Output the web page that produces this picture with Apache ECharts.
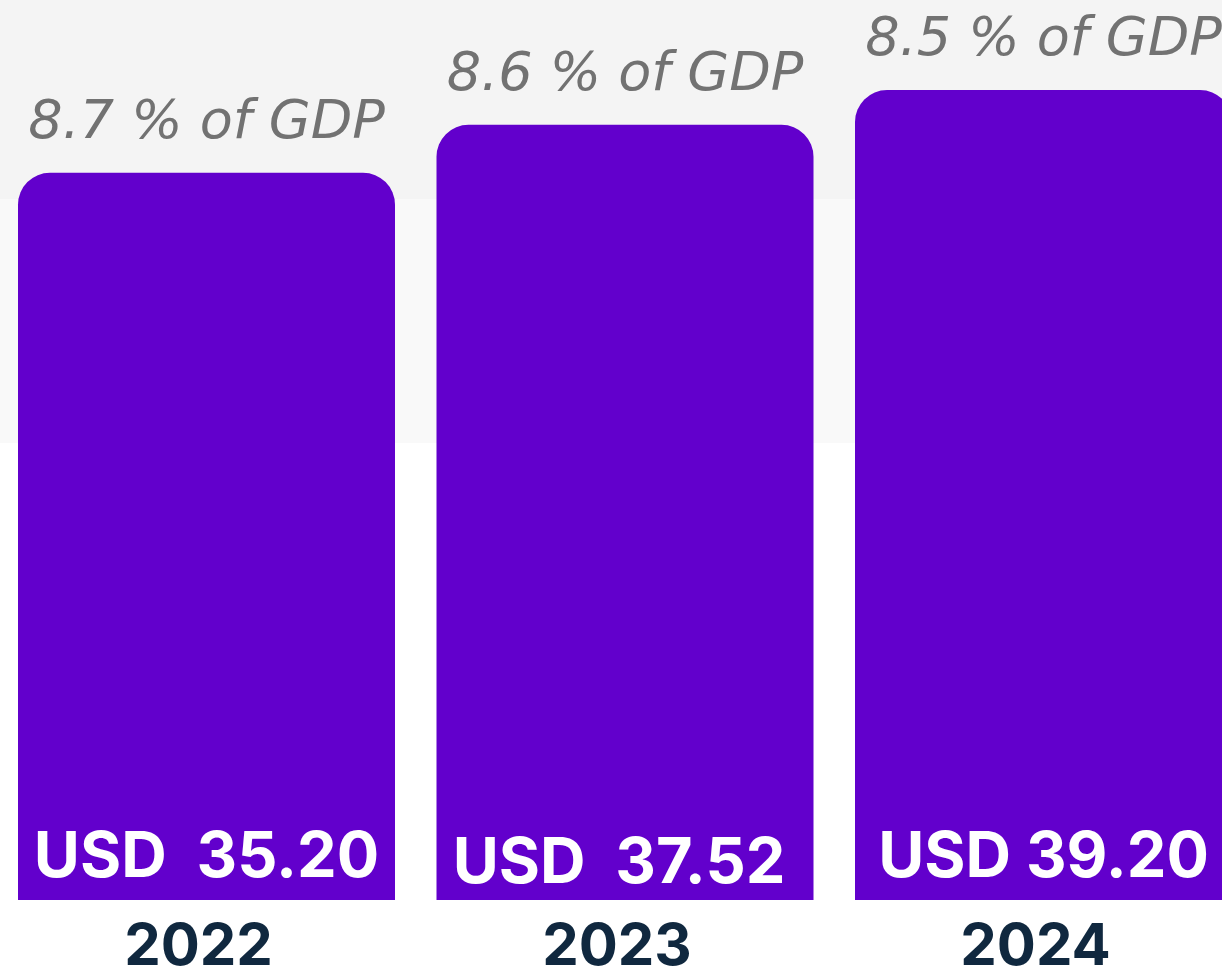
<!DOCTYPE html>
<html><head><meta charset="utf-8">
<script src="https://cdn.jsdelivr.net/npm/echarts@6/dist/echarts.min.js"></script>
<style>html,body{margin:0;padding:0;background:#fff;overflow:hidden}
#c{width:1222px;height:970px}</style>
</head><body><div id="c"></div>
<script>
const years = ['2022', '2023', '2024'];
const spending = [35.20, 37.52, 39.20];
const valueLabels = ['USD  35.20', 'USD  37.52', 'USD 39.20'];
const gdpShare = ['8.7 % of GDP', '8.6 % of GDP', '8.5 % of GDP'];

const chart = echarts.init(document.getElementById('c'), null, {renderer: 'canvas'});
chart.setOption({
  animation: false,
  backgroundColor: '#ffffff',
  graphic: [
    {type: 'rect', z: -10, shape: {x: 0, y: 0, width: 1222, height: 199}, style: {fill: '#f4f4f4'}},
    {type: 'rect', z: -10, shape: {x: 0, y: 199, width: 1222, height: 244}, style: {fill: '#f9f9f9'}}
  ],
  grid: {left: -2.75, right: -30.75, top: 0, bottom: 70, containLabel: false, outerBoundsMode: 'none'},
  xAxis: {
    type: 'category', data: years,
    axisLine: {show: false}, axisTick: {show: false},
    axisLabel: {
      color: '#10283f', fontFamily: 'Inter', fontWeight: 'bold', fontSize: 58,
      margin: 19, padding: [0, 16, 0, 0]
    }
  },
  yAxis: {type: 'value', min: 0, max: 43.56, show: false, splitLine: {show: false}},
  series: [
    {
      type: 'bar', data: spending, barWidth: 377,
      itemStyle: {color: '#6200cc', borderRadius: [32, 32, 0, 0]},
      label: {
        show: true, position: 'top', distance: 22,
        formatter: p => gdpShare[p.dataIndex],
        color: '#727272', fontFamily: 'DejaVu Sans', fontStyle: 'italic', fontWeight: 200, fontSize: 54
      }
    },
    {
      type: 'bar', barWidth: 377, barGap: '-100%', z: 5,
      data: spending.map((v, i) => i === 1 ? {value: v, label: {offset: [-6, 6]}} : v),
      itemStyle: {color: 'rgba(0,0,0,0)'},
      label: {
        show: true, position: 'insideBottom', distance: 10,
        formatter: p => valueLabels[p.dataIndex],
        color: '#ffffff', fontFamily: 'Inter', fontWeight: 'bold', fontSize: 63
      }
    }
  ]
});
</script></body></html>
